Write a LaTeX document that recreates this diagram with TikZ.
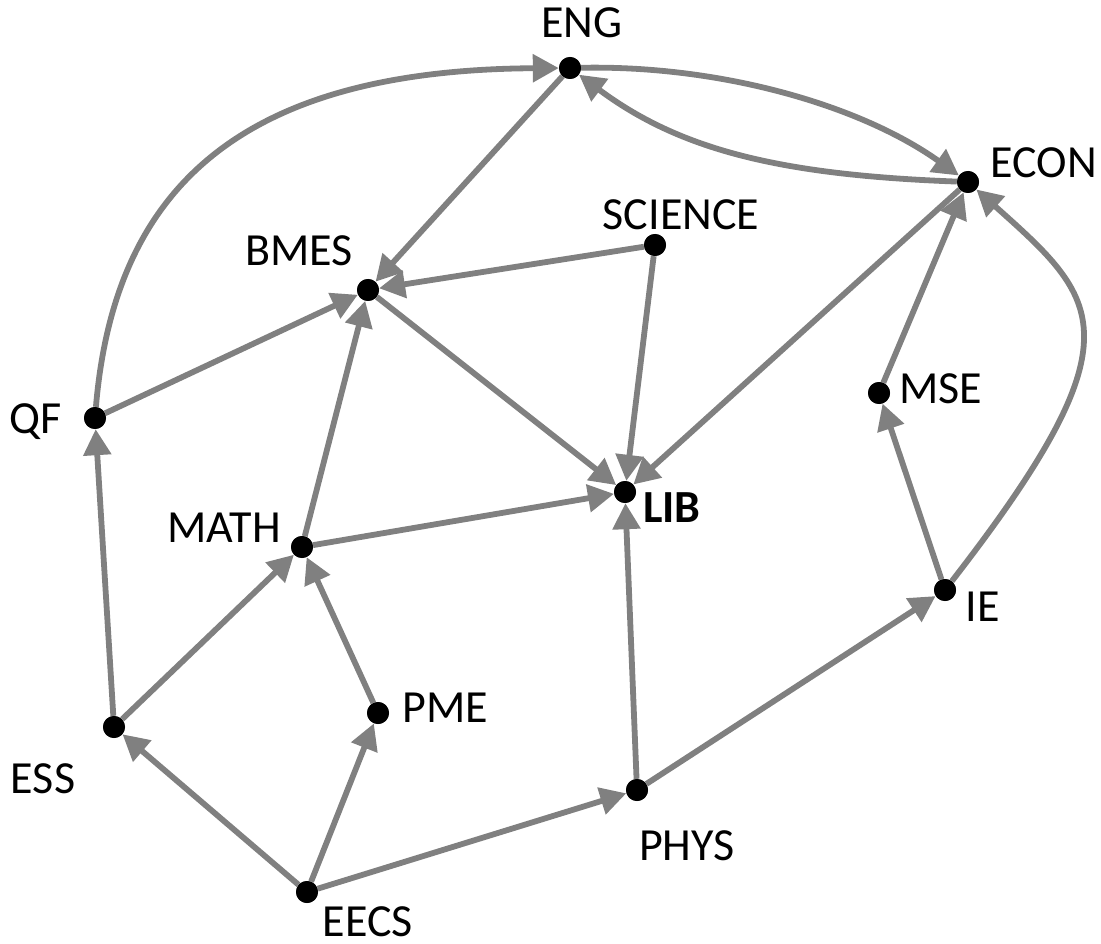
\documentclass[tikz,border=0pt]{standalone}
\usepackage{fontspec}
\setmainfont{Carlito}
\usetikzlibrary{arrows.meta}
\definecolor{edgegray}{RGB}{128,128,128}
\tikzset{
  dot/.style={circle,fill=black,inner sep=0pt,minimum size=22pt},
  lbl/.style={anchor=base,inner sep=0pt,font=\fontsize{46}{52}\selectfont},
  edge/.style={draw=edgegray,line width=5.8pt,-{Triangle[length=26pt,width=27pt]}}
}
\begin{document}
\begin{tikzpicture}[x=1pt,y=-1pt]
\useasboundingbox (0,0) rectangle (1101,944);
% dots
\node[dot] (ENG) at (570,68) {};
\node[dot] (ECON) at (968,182) {};
\node[dot] (SCI) at (655,245) {};
\node[dot] (BMES) at (368,290) {};
\node[dot] (QF) at (95,418) {};
\node[dot] (MSE) at (879,393) {};
\node[dot] (LIB) at (625,492) {};
\node[dot] (MATH) at (302,547) {};
\node[dot] (IE) at (945,590) {};
\node[dot] (ESS) at (114,727) {};
\node[dot] (PME) at (378,713) {};
\node[dot] (PHYS) at (637,790) {};
\node[dot] (EECS) at (307,892) {};
% labels
\node[lbl] (tENG) at (582,38) {ENG};
\node[lbl] (tECON) at (1044,178) {ECON};
\node[lbl] (tSCI) at (681,230) {SCIENCE};
\node[lbl] (tBMES) at (299,266) {BMES};
\node[lbl] (tQF) at (36,433) {QF};
\node[lbl] (tMSE) at (941,403) {MSE};
\node[lbl,font=\fontsize{46}{52}\selectfont\bfseries] (tLIB) at (672,522) {LIB};
\node[lbl] (tMATH) at (224,542) {MATH};
\node[lbl] (tIE) at (983,621) {IE};
\node[lbl] (tESS) at (43,793) {ESS};
\node[lbl] (tPME) at (445,722) {PME};
\node[lbl] (tPHYS) at (687,860) {PHYS};
\node[lbl] (tEECS) at (368,936) {EECS};
% curved edges
\draw[edge] (QF) .. controls (115,180) and (250,70) .. (ENG);
\draw[edge] (ENG) .. controls (720,65) and (860,105) .. (ECON);
\draw[edge] (ECON) .. controls (780,175) and (680,150) .. (ENG);
\draw[edge] (IE) .. controls (1142,336) and (1100,300) .. (ECON);
% straight edges
\draw[edge] (ENG) -- (BMES);
\draw[edge] (SCI) -- (BMES);
\draw[edge] (SCI) -- (LIB);
\draw[edge] (ECON) -- (LIB);
\draw[edge] (BMES) -- (LIB);
\draw[edge] (QF) -- (BMES);
\draw[edge] (MATH) -- (BMES);
\draw[edge] (MATH) -- (LIB);
\draw[edge] (ESS) -- (QF);
\draw[edge] (ESS) -- (MATH);
\draw[edge] (PME) -- (MATH);
\draw[edge] (EECS) -- (ESS);
\draw[edge] (EECS) -- (PME);
\draw[edge] (EECS) -- (PHYS);
\draw[edge] (PHYS) -- (LIB);
\draw[edge] (PHYS) -- (IE);
\draw[edge] (IE) -- (MSE);
\draw[edge] (MSE) -- (ECON);
% redraw dots on top
\foreach \n in {ENG,ECON,SCI,BMES,QF,MSE,LIB,MATH,IE,ESS,PME,PHYS,EECS}
  \fill (\n) circle (11pt);
\end{tikzpicture}
\end{document}
